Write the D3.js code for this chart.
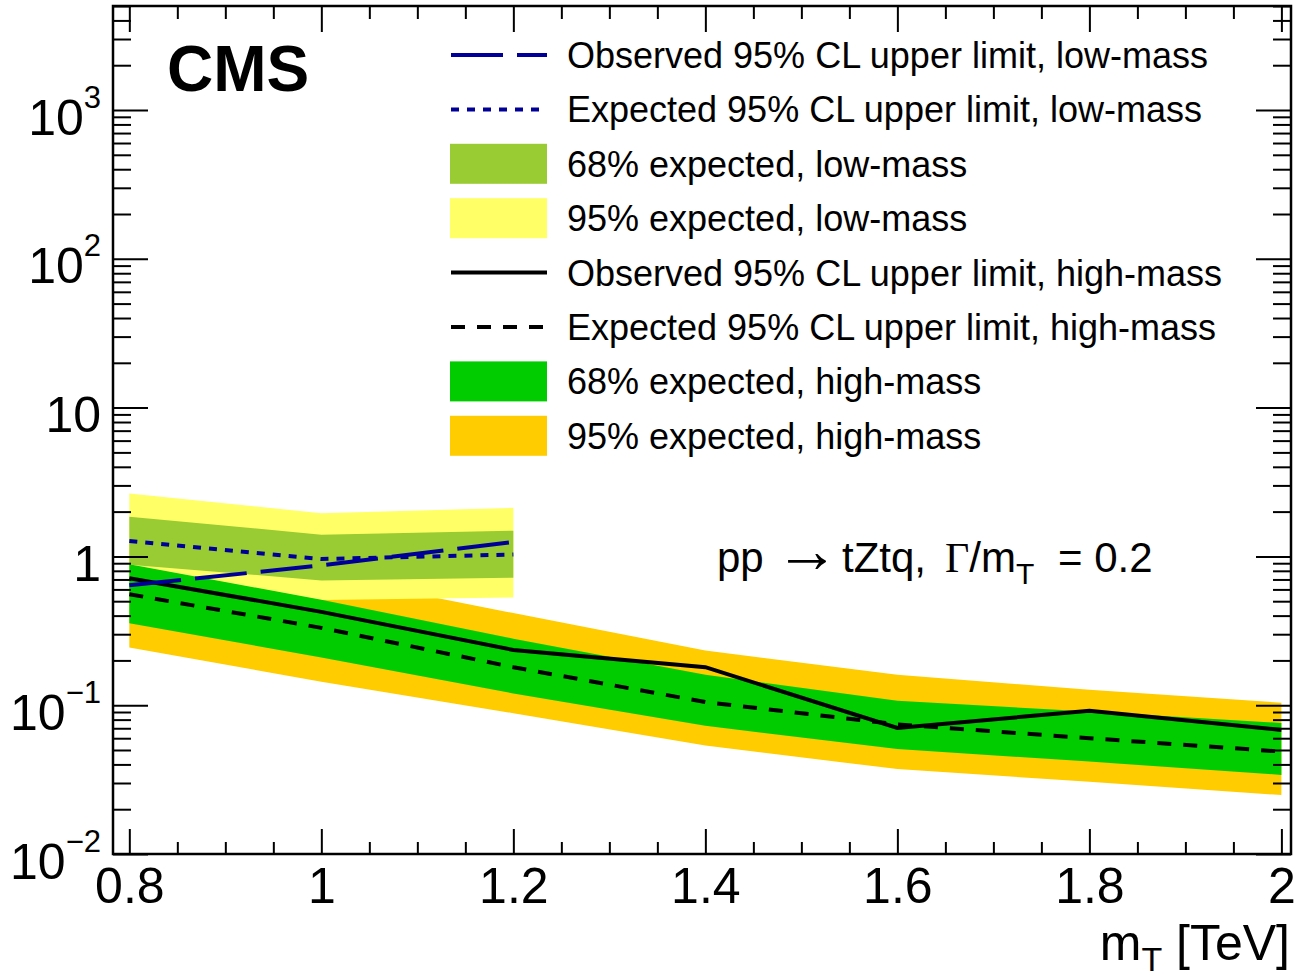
<!DOCTYPE html>
<html>
<head>
<meta charset="utf-8">
<script src="https://cdn.jsdelivr.net/npm/d3@7"></script>
<style>
	body { margin: 0; background: #fff; }
	svg { display: block; font-family: "Liberation Sans", Arial, Helvetica, sans-serif; }
</style>
</head>
<body>
<div id="chart"></div>
<script>
// low-mass search (three mass points)
const massLow = [0.8, 1.0, 1.2];
const obsLow = [0.64, 0.87, 1.25];
const expLow = [1.27, 0.96, 1.03];
const low68Up = [1.85, 1.40, 1.49];
const low68Dn = [0.88, 0.69, 0.72];
const low95Up = [2.65, 1.95, 2.12];
const low95Dn = [0.665, 0.51, 0.53];

// high-mass search
const massHigh = [0.8, 1.0, 1.2, 1.4, 1.6, 1.8, 2.0];
const obsHigh = [0.714, 0.424, 0.235, 0.18, 0.0703, 0.0917, 0.0682];
const expHigh = [0.557, 0.331, 0.18, 0.105, 0.0743, 0.06, 0.0488];
const high68Up = [0.887, 0.511, 0.28, 0.16, 0.107, 0.0906, 0.076];
const high68Dn = [0.356, 0.209, 0.12, 0.0727, 0.0508, 0.0418, 0.034];
const high95Up = [1.31, 0.75, 0.416, 0.233, 0.16, 0.127, 0.104];
const high95Dn = [0.244, 0.144, 0.0883, 0.0535, 0.0372, 0.0306, 0.0249];

// axis ticks
const xMajor = [0.8, 1.0, 1.2, 1.4, 1.6, 1.8, 2.0];
const yMajor = [0.01, 0.1, 1, 10, 100, 1000];
const yLabels = [["10", "\u22122"], ["10", "\u22121"], ["1", ""], ["10", ""], ["10", "2"], ["10", "3"]];

const legendLabels = [
	"Observed 95% CL upper limit, low-mass",
	"Expected 95% CL upper limit, low-mass",
	"68% expected, low-mass",
	"95% expected, low-mass",
	"Observed 95% CL upper limit, high-mass",
	"Expected 95% CL upper limit, high-mass",
	"68% expected, high-mass",
	"95% expected, high-mass",
];

const width = 1298;
const height = 977;
const frame = { left: 113, top: 6, right: 1291, bottom: 854 };
const fontSans = "Liberation Sans, Arial, Helvetica, sans-serif";
const fontSerif = "Liberation Serif, Times New Roman, serif";

const colors = {
	olive: "#99cc33",
	yellow: "#ffff66",
	green: "#00cc00",
	orange: "#ffcc00",
	blue: "#000099",
};

const xScale = d3.scaleLinear().domain([0.783, 2.01]).range([frame.left, frame.right]);
const yScale = d3.scaleLog().domain([0.01, 5000]).range([frame.bottom, frame.top]);

const svg = d3
	.select("#chart")
	.append("svg")
	.attr("width", width)
	.attr("height", height);

svg.append("clipPath")
	.attr("id", "clip")
	.append("rect")
	.attr("x", frame.left)
	.attr("y", frame.top)
	.attr("width", frame.right - frame.left)
	.attr("height", frame.bottom - frame.top);

const plot = svg.append("g").attr("clip-path", "url(#clip)");

const lowRows = massLow.map((m, i) => ({
	m: m, obs: obsLow[i], exp: expLow[i],
	up68: low68Up[i], dn68: low68Dn[i], up95: low95Up[i], dn95: low95Dn[i],
}));
const highRows = massHigh.map((m, i) => ({
	m: m, obs: obsHigh[i], exp: expHigh[i],
	up68: high68Up[i], dn68: high68Dn[i], up95: high95Up[i], dn95: high95Dn[i],
}));

const band = (up, dn) =>
	d3.area()
		.x((d) => xScale(d.m))
		.y0((d) => yScale(d[dn]))
		.y1((d) => yScale(d[up]));

const line = (key) =>
	d3.line()
		.x((d) => xScale(d.m))
		.y((d) => yScale(d[key]));

// bands: 95% first, then 68%
plot.append("path").datum(highRows).attr("d", band("up95", "dn95")).attr("fill", colors.orange);
plot.append("path").datum(lowRows).attr("d", band("up95", "dn95")).attr("fill", colors.yellow);
plot.append("path").datum(highRows).attr("d", band("up68", "dn68")).attr("fill", colors.green);
plot.append("path").datum(lowRows).attr("d", band("up68", "dn68")).attr("fill", colors.olive);

// limit lines
plot.append("path").datum(highRows).attr("d", line("exp"))
	.attr("fill", "none").attr("stroke", "black").attr("stroke-width", 4)
	.attr("stroke-dasharray", "14,12");
plot.append("path").datum(highRows).attr("d", line("obs"))
	.attr("fill", "none").attr("stroke", "black").attr("stroke-width", 4);
plot.append("path").datum(lowRows).attr("d", line("exp"))
	.attr("fill", "none").attr("stroke", colors.blue).attr("stroke-width", 4)
	.attr("stroke-dasharray", "8,8");
plot.append("path").datum(lowRows).attr("d", line("obs"))
	.attr("fill", "none").attr("stroke", colors.blue).attr("stroke-width", 4)
	.attr("stroke-dasharray", "52,14");

// axes (ticks inward on all four sides)
const xMinor = d3.range(16, 41).filter((i) => i % 4 !== 0).map((i) => i * 0.05);
const isMajorY = (v) => Math.abs(Math.log10(v) - Math.round(Math.log10(v))) < 1e-6;
const yMinor = yScale.ticks().filter((v) => !isMajorY(v));

function styleAxis(g) {
	g.select(".domain").remove();
	g.selectAll(".tick line").attr("stroke", "black").attr("stroke-width", 2);
}

const xAxis = svg.append("g")
	.attr("transform", `translate(0, ${frame.bottom})`)
	.call(d3.axisBottom(xScale).tickValues(xMajor).tickSize(-25).tickFormat(d3.format("~g")))
	.call(styleAxis);
xAxis.selectAll(".tick text")
	.attr("y", 49).attr("dy", null)
	.attr("font-size", 50).attr("fill", "black")
	.attr("font-family", fontSans);

svg.append("g")
	.attr("transform", `translate(0, ${frame.bottom})`)
	.call(d3.axisBottom(xScale).tickValues(xMinor).tickSize(-12).tickFormat(""))
	.call(styleAxis);
svg.append("g")
	.attr("transform", `translate(0, ${frame.top})`)
	.call(d3.axisTop(xScale).tickValues(xMajor).tickSize(-26).tickFormat(""))
	.call(styleAxis);
svg.append("g")
	.attr("transform", `translate(0, ${frame.top})`)
	.call(d3.axisTop(xScale).tickValues(xMinor).tickSize(-13).tickFormat(""))
	.call(styleAxis);

const yAxis = svg.append("g")
	.attr("transform", `translate(${frame.left}, 0)`)
	.call(d3.axisLeft(yScale).tickValues(yMajor).tickSize(-35).tickFormat(""))
	.call(styleAxis);
svg.append("g")
	.attr("transform", `translate(${frame.left}, 0)`)
	.call(d3.axisLeft(yScale).tickValues(yMinor).tickSize(-18).tickFormat(""))
	.call(styleAxis);
svg.append("g")
	.attr("transform", `translate(${frame.right}, 0)`)
	.call(d3.axisRight(yScale).tickValues(yMajor).tickSize(-35).tickFormat(""))
	.call(styleAxis);
svg.append("g")
	.attr("transform", `translate(${frame.right}, 0)`)
	.call(d3.axisRight(yScale).tickValues(yMinor).tickSize(-18).tickFormat(""))
	.call(styleAxis);

// y tick labels with exponents
yAxis.selectAll(".tick text").remove();
yAxis.selectAll(".tick").each(function (d) {
	const lab = yLabels[yMajor.indexOf(d)];
	const t = d3.select(this).append("text")
		.attr("x", -12).attr("y", 24)
		.attr("text-anchor", "end")
		.attr("fill", "black")
		.attr("font-family", fontSans)
		.attr("font-size", 50);
	t.append("tspan").text(lab[0]);
	if (lab[1]) {
		t.append("tspan").attr("font-size", 31).attr("dy", -27).text(lab[1]);
	}
});

// frame
svg.append("rect")
	.attr("x", frame.left).attr("y", frame.top)
	.attr("width", frame.right - frame.left)
	.attr("height", frame.bottom - frame.top)
	.attr("fill", "none").attr("stroke", "black").attr("stroke-width", 2.5);

// x axis title
const xTitle = svg.append("text")
	.attr("x", 1290).attr("y", 960)
	.attr("text-anchor", "end")
	.attr("font-size", 50);
xTitle.append("tspan").text("m");
xTitle.append("tspan").attr("font-size", 34).attr("dy", 11).text("T");
xTitle.append("tspan").attr("dy", -11).text(" [TeV]");

// CMS label
svg.append("text")
	.attr("x", 167).attr("y", 91)
	.attr("font-size", 64).attr("font-weight", "bold")
	.text("CMS");

// process annotation (pieces placed like the TLatex output)
const ann = svg.append("text")
	.attr("y", 572)
	.attr("font-size", 42);
ann.append("tspan").attr("x", 717).text("pp");
ann.append("tspan").attr("x", 775)
	.attr("font-family", fontSerif).attr("font-size", 64)
	.text("\u2192");
ann.append("tspan").attr("x", 842).text("tZtq,");
ann.append("tspan").attr("x", 945).attr("font-family", fontSerif).text("\u0393");
ann.append("tspan").text("/m");
ann.append("tspan").attr("font-size", 30).attr("dy", 12).text("T");
ann.append("tspan").attr("dy", -12).attr("x", 1058).text("= 0.2");

// legend
const legend = svg.append("g");
const legendStyles = [
	{ type: "line", color: colors.blue, dash: "52,14" },
	{ type: "line", color: colors.blue, dash: "8,8" },
	{ type: "box", color: colors.olive },
	{ type: "box", color: colors.yellow },
	{ type: "line", color: "black", dash: null },
	{ type: "line", color: "black", dash: "14,12" },
	{ type: "box", color: colors.green },
	{ type: "box", color: colors.orange },
];
legendLabels.forEach(function (label, i) {
	const cy = 55 + i * 54.4;
	const st = legendStyles[i];
	if (st.type === "box") {
		legend.append("rect")
			.attr("x", 450).attr("y", cy - 20)
			.attr("width", 97).attr("height", 40)
			.attr("fill", st.color);
	} else {
		legend.append("line")
			.attr("x1", 451).attr("x2", 547)
			.attr("y1", cy).attr("y2", cy)
			.attr("stroke", st.color).attr("stroke-width", 4)
			.attr("stroke-dasharray", st.dash);
	}
	legend.append("text")
		.attr("x", 567).attr("y", cy + 13)
		.attr("font-size", 36)
		.text(label);
});
</script>
</body>
</html>
